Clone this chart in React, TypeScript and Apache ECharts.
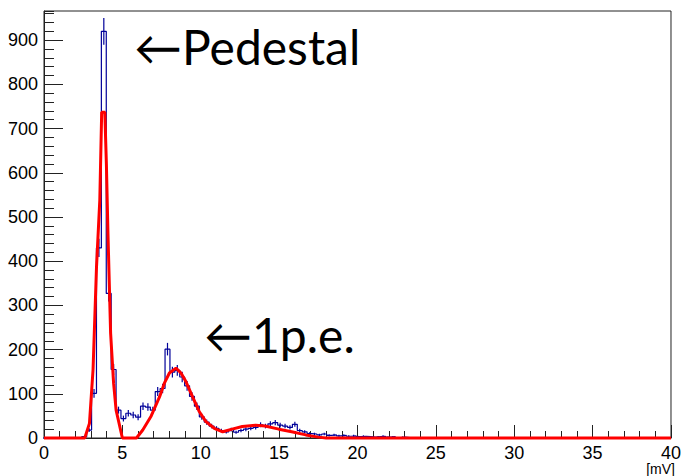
import React, { useEffect, useRef } from 'react';
import * as echarts from 'echarts';

// Histogram binning (mV)
const BIN_START = -0.09;
const BIN_WIDTH = 0.3125;

// Entries per bin
const counts: number[] = [
  0, 0, 0, 0, 0, 0, 0, 0, 3, 18,
  101, 430, 920, 327, 155, 63, 44, 56, 52, 47,
  72, 70, 63, 105, 112, 201, 149, 153, 138, 118,
  94, 72, 48, 36, 27, 22, 17, 14, 19, 13,
  17, 20, 22, 24, 30, 27, 32, 35, 29, 27,
  24, 31, 17, 14, 10, 9, 7, 9, 6, 7,
  5, 6, 4, 5, 3, 4, 3, 2, 3, 4,
  2, 3, 1, 2, 1, 0, 0, 0, 1, 0,
  0, 0, 0, 0, 1, 0, 1, 0, 0, 0,
  1, 0, 0, 0, 0, 0, 0, 0, 0, 0,
  0, 0, 0, 0, 0, 0, 0, 1, 0, 0,
  0, 0, 0, 0, 0, 0, 0, 0, 0, 0,
  0, 0, 0, 0, 0, 0, 0, 0,
];

// Fit curve
const fitX: number[] = [
  0, 2.6, 2.9, 3.13, 3.35, 3.56, 3.68, 3.88, 3.98, 4.08, 4.25, 4.44, 4.6, 5.0,
  5.9, 6.3, 6.84, 7.37, 7.68, 8.0, 8.42, 8.74, 9.06, 9.48, 9.9, 10.33, 10.86,
  11.4, 12.0, 12.65, 13.5, 14.1, 14.98, 15.8, 16.7, 17.5, 18.0, 40,
];
const fitY: number[] = [
  0, 0, 33, 155, 387, 538, 737, 737, 620, 463, 237, 124, 63, 0,
  0, 18, 50, 93, 124, 147, 158, 147, 127, 93, 60, 37, 22,
  14, 20, 26, 29, 27, 20, 14, 7, 2, 0, 0,
];

const annotations = [
  { text: '\u2190Pedestal', x: 134, y: 52 },
  { text: '\u21901p.e.', x: 204, y: 340 },
];

const X_MIN = 0;
const X_MAX = 40;
const Y_MAX = 966;

export default function App() {
  const ref = useRef<HTMLDivElement>(null);
  useEffect(() => {
    if (!ref.current) return;
    document.body.style.margin = '0';
    const chart = echarts.init(ref.current, null, { renderer: 'svg' });

    const stepPts: number[][] = [];
    const errData: number[][] = [];
    counts.forEach((c, i) => {
      const lo = BIN_START + i * BIN_WIDTH;
      const hi = lo + BIN_WIDTH;
      stepPts.push([lo, c]);
      stepPts.push([hi, c]);
      if (c > 0) errData.push([(lo + hi) / 2, c, Math.sqrt(c)]);
    });
    const fitData = fitX.map((x, i) => [x, fitY[i]]);

    const labelFont = {
      fontSize: 18,
      color: '#000',
      fontFamily: '"Liberation Sans", Arial, sans-serif',
    };

    chart.setOption({
      animation: false,
      backgroundColor: '#fff',
      grid: {
        left: 44,
        right: 10,
        top: 11,
        bottom: 38,
        show: true,
        borderColor: '#222',
        borderWidth: 1,
        backgroundColor: 'transparent',
      },
      xAxis: {
        type: 'value',
        min: X_MIN,
        max: X_MAX,
        interval: 5,
        axisLine: { show: true, lineStyle: { color: '#222', width: 1 } },
        axisTick: { show: true, inside: true, length: 13, lineStyle: { color: '#222' } },
        minorTick: { show: true, splitNumber: 5, length: 7, lineStyle: { color: '#222' } },
        splitLine: { show: false },
        minorSplitLine: { show: false },
        axisLabel: { ...labelFont, margin: 6 },
      },
      yAxis: [
        {
          type: 'value',
          min: 0,
          max: Y_MAX,
          interval: 100,
          position: 'left',
          axisLine: { show: true, lineStyle: { color: '#222', width: 1 } },
          axisTick: { show: true, inside: true, length: 19, lineStyle: { color: '#222' } },
          splitLine: { show: false },
          axisLabel: { ...labelFont, margin: 6, showMaxLabel: false },
        },
        {
          type: 'value',
          min: 0,
          max: Y_MAX,
          interval: 20,
          position: 'left',
          offset: 0,
          axisLine: { show: false },
          axisTick: { show: true, inside: true, length: 10, lineStyle: { color: '#222' } },
          splitLine: { show: false },
          axisLabel: { show: false },
        },
      ],
      series: [
        {
          type: 'line',
          data: stepPts,
          showSymbol: false,
          symbol: 'none',
          clip: false,
          lineStyle: { color: '#000099', width: 1.2 },
          z: 2,
        },
        {
          type: 'custom',
          data: errData,
          clip: false,
          z: 3,
          renderItem: (params: any, api: any) => {
            const x = api.value(0);
            const y = api.value(1);
            const e = api.value(2);
            const p1 = api.coord([x, y - e]);
            const p2 = api.coord([x, y + e]);
            return {
              type: 'line',
              shape: { x1: p1[0], y1: p1[1], x2: p2[0], y2: p2[1] },
              style: { stroke: '#000099', lineWidth: 1.2 },
            };
          },
        },
        {
          type: 'line',
          data: fitData,
          showSymbol: false,
          symbol: 'none',
          clip: false,
          lineStyle: { color: '#ff0000', width: 3 },
          z: 5,
        },
      ],
      graphic: [
        ...annotations.map((a) => ({
          type: 'text',
          left: a.x,
          top: a.y - 30,
          style: {
            text: a.text,
            fontSize: 48,
            fontFamily: 'Lato, "DejaVu Sans", sans-serif',
            fill: '#000',
          },
        })),
        {
          type: 'text',
          right: 9,
          top: 462,
          style: {
            text: '[mV]',
            fontSize: 14,
            fontFamily: '"Liberation Sans", Arial, sans-serif',
            fill: '#000',
          },
        },
      ],
    });
    return () => chart.dispose();
  }, []);
  return <div ref={ref} style={{ width: 684, height: 476 }} />;
}
